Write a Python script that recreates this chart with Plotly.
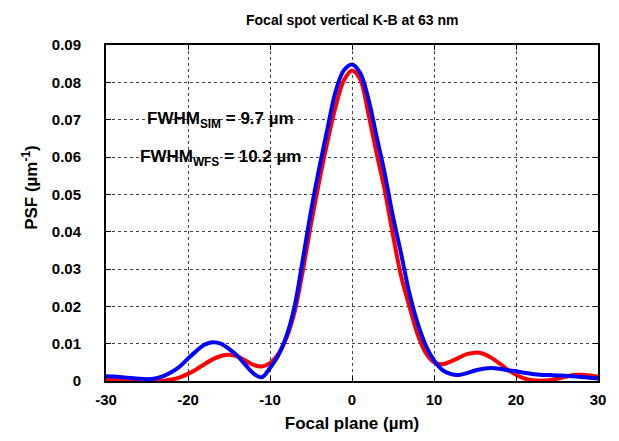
import plotly.graph_objects as go

# Focal plane position (µm)
focal_um = list(range(-30, 31))

# PSF from the simulation (µm^-1)
psf_sim = [
    0.0005, 0.0004, 0.0003, 0.0002, 0.0001, 0.0000, 0.0000, 0.0001, 0.0004, 0.0010,
    0.0019, 0.0031, 0.0045, 0.0058, 0.0067, 0.0070, 0.0066, 0.0055, 0.0043, 0.0039,
    0.0048, 0.0072, 0.0115, 0.0185, 0.0295, 0.0420, 0.0535, 0.0640, 0.0735, 0.0805,
    0.0832,
    0.0808, 0.0715, 0.0610, 0.0510, 0.0390, 0.0280, 0.0200, 0.0125, 0.0075, 0.0050,
    0.0045, 0.0052, 0.0062, 0.0072, 0.0076, 0.0073, 0.0062, 0.0047, 0.0030, 0.0017,
    0.0007, 0.0002, 0.0001, 0.0002, 0.0006, 0.0011, 0.0016, 0.0017, 0.0015, 0.0012,
]

# PSF from the wavefront sensor measurement (µm^-1)
psf_wfs = [
    0.0013, 0.0012, 0.0010, 0.0008, 0.0006, 0.0005, 0.0007, 0.0013, 0.0024, 0.0039,
    0.0060, 0.0080, 0.0097, 0.0104, 0.0100, 0.0086, 0.0068, 0.0043, 0.0020, 0.0010,
    0.0035, 0.0068, 0.0120, 0.0200, 0.0325, 0.0455, 0.0570, 0.0675, 0.0775, 0.0832,
    0.0848,
    0.0825, 0.0755, 0.0655, 0.0555, 0.0440, 0.0340, 0.0235, 0.0155, 0.0095, 0.0055,
    0.0030, 0.0019, 0.0016, 0.0021, 0.0028, 0.0033, 0.0035, 0.0033, 0.0029, 0.0026,
    0.0022, 0.0019, 0.0017, 0.0016, 0.0015, 0.0014, 0.0013, 0.0011, 0.0009, 0.0007,
]

x_ticks = [-30, -20, -10, 0, 10, 20, 30]
x_tick_text = ["-30", "-20", "-10", "0", "10", "20", "30"]
y_ticks = [0, 0.01, 0.02, 0.03, 0.04, 0.05, 0.06, 0.07, 0.08, 0.09]
y_tick_text = ["0", "0.01", "0.02", "0.03", "0.04", "0.05", "0.06", "0.07", "0.08", "0.09"]

FONT = "Liberation Sans, Arial, sans-serif"

fig = go.Figure()
fig.add_trace(go.Scatter(
    x=focal_um, y=psf_sim, mode="lines", name="SIM",
    line=dict(color="#ff0000", width=4, shape="spline", smoothing=1.0),
))
fig.add_trace(go.Scatter(
    x=focal_um, y=psf_wfs, mode="lines", name="WFS",
    line=dict(color="#0000ff", width=4, shape="spline", smoothing=1.0),
))

axis_common = dict(
    showline=True, linecolor="black", linewidth=2, mirror="ticks",
    ticks="inside", ticklen=5, tickwidth=1, tickcolor="black",
    showgrid=True, gridcolor="#444444", gridwidth=1, griddash="dot",
    zeroline=False, automargin=False,
    tickfont=dict(family=FONT, size=15, color="black", weight="bold"),
)

fig.update_xaxes(
    range=[-30, 30], tickvals=x_ticks, ticktext=x_tick_text,
    ticklabelstandoff=4,
    title=dict(text="<b>Focal plane (µm)</b>", font=dict(family=FONT, size=17, color="black"),
               standoff=10),
    **axis_common,
)
fig.update_yaxes(
    range=[0, 0.09], tickvals=y_ticks, ticktext=y_tick_text,
    ticklabelstandoff=20,
    **axis_common,
)

fig.add_annotation(
    xref="paper", yref="paper", x=-0.155, y=0.577, textangle=-90,
    text="<b>PSF (µm<sup>-1</sup>)</b>", showarrow=False,
    font=dict(family=FONT, size=17, color="black"),
    xanchor="center", yanchor="middle",
)
fig.add_annotation(
    x=-16, y=0.0700, text="<b>FWHM<sub>SIM</sub> = 9.7 µm</b>", showarrow=False,
    font=dict(family=FONT, size=17, color="black"), xanchor="center", yanchor="middle",
)
fig.add_annotation(
    x=-16, y=0.0597, text="<b>FWHM<sub>WFS</sub> = 10.2 µm</b>", showarrow=False,
    font=dict(family=FONT, size=17, color="black"), xanchor="center", yanchor="middle",
)

fig.update_layout(
    width=619, height=441,
    margin=dict(l=106, r=21, t=45, b=60),
    paper_bgcolor="white", plot_bgcolor="white",
    showlegend=False,
    title=dict(text="<b>Focal spot vertical K-B at 63 nm</b>", x=0.569, xanchor="center",
               y=0.955, yanchor="middle", font=dict(family=FONT, size=14, color="black")),
)

fig.write_html("out.html")
